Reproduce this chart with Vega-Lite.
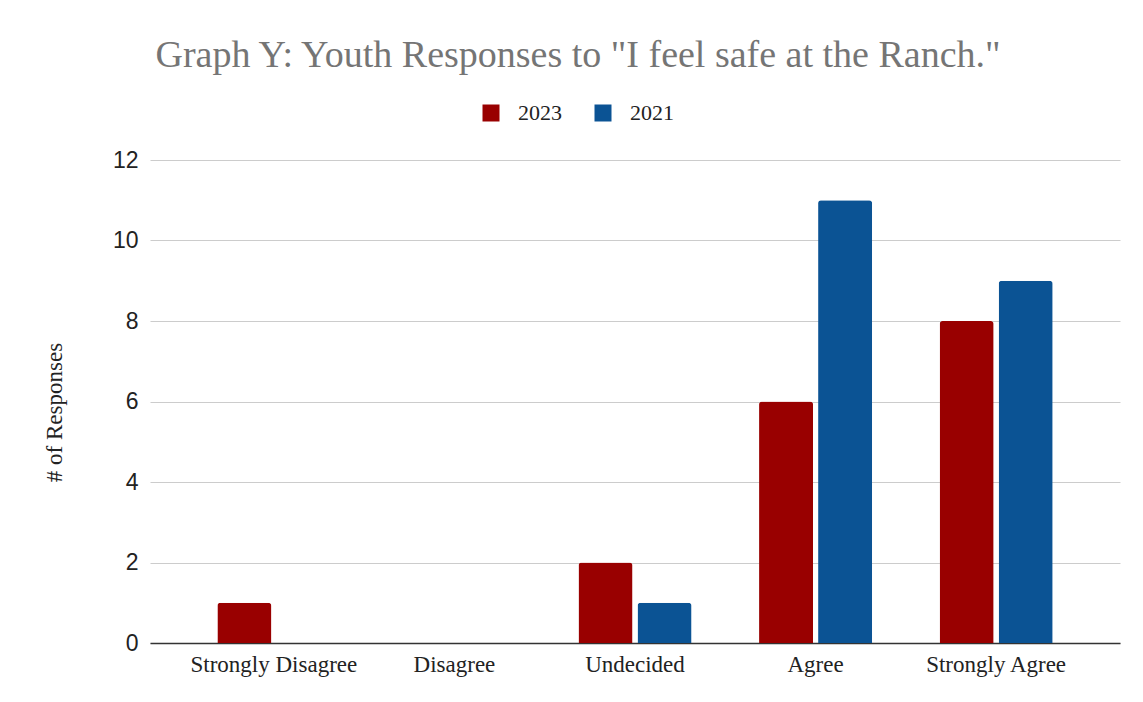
{
  "$schema": "https://vega.github.io/schema/vega-lite/v6.json",
  "autosize": "none",
  "width": 970,
  "height": 483,
  "padding": {"left": 150, "top": 160, "right": 23, "bottom": 59},
  "background": "white",
  "config": {"view": {"stroke": null}},
  "title": {
    "text": "Graph Y: Youth Responses to \"I feel safe at the Ranch.\"",
    "font": "Liberation Serif",
    "fontSize": 38,
    "fontWeight": "normal",
    "color": "#757575",
    "anchor": "middle",
    "dx": -57,
    "offset": 27
  },
  "data": {
    "values": [
      {"response": "Strongly Disagree", "year": "2023", "count": 1},
      {"response": "Strongly Disagree", "year": "2021", "count": 0},
      {"response": "Disagree", "year": "2023", "count": 0},
      {"response": "Disagree", "year": "2021", "count": 0},
      {"response": "Undecided", "year": "2023", "count": 2},
      {"response": "Undecided", "year": "2021", "count": 1},
      {"response": "Agree", "year": "2023", "count": 6},
      {"response": "Agree", "year": "2021", "count": 11},
      {"response": "Strongly Agree", "year": "2023", "count": 8},
      {"response": "Strongly Agree", "year": "2021", "count": 9}
    ]
  },
  "mark": {"type": "bar", "cornerRadiusTopLeft": 3, "cornerRadiusTopRight": 3},
  "encoding": {
    "x": {
      "field": "response",
      "type": "nominal",
      "sort": ["Strongly Disagree", "Disagree", "Undecided", "Agree", "Strongly Agree"],
      "scale": {"paddingInner": 0, "paddingOuter": 0.186},
      "axis": {
        "title": null,
        "labelAngle": 0,
        "labelFont": "Liberation Serif",
        "labelFontSize": 23,
        "labelColor": "#222222",
        "labelPadding": 10,
        "ticks": false,
        "domain": true,
        "domainColor": "#333333",
        "domainWidth": 1.5
      }
    },
    "xOffset": {
      "field": "year",
      "type": "nominal",
      "sort": ["2023", "2021"],
      "scale": {"paddingInner": 0.085, "paddingOuter": 0.572}
    },
    "y": {
      "field": "count",
      "type": "quantitative",
      "scale": {"domain": [0, 12]},
      "axis": {
        "title": "# of Responses",
        "titleFont": "Liberation Serif",
        "titleFontSize": 23,
        "titleFontWeight": "normal",
        "titleColor": "#222222",
        "titlePadding": 46,
        "titleY": 252,
        "values": [0, 2, 4, 6, 8, 10, 12],
        "labelFont": "Liberation Sans",
        "labelFontSize": 23,
        "labelColor": "#222222",
        "labelPadding": 12,
        "ticks": false,
        "domain": false,
        "gridColor": "#cccccc",
        "gridWidth": 1
      }
    },
    "color": {
      "field": "year",
      "type": "nominal",
      "sort": ["2023", "2021"],
      "scale": {"domain": ["2023", "2021"], "range": ["#990000", "#0b5394"]},
      "legend": {
        "title": null,
        "orient": "none",
        "direction": "horizontal",
        "legendX": 330,
        "legendY": -58,
        "symbolType": "square",
        "symbolSize": 289,
        "symbolStrokeWidth": 0,
        "labelFont": "Liberation Serif",
        "labelFontSize": 22,
        "labelColor": "#222222",
        "labelOffset": 16,
        "columnPadding": 30
      }
    }
  }
}
